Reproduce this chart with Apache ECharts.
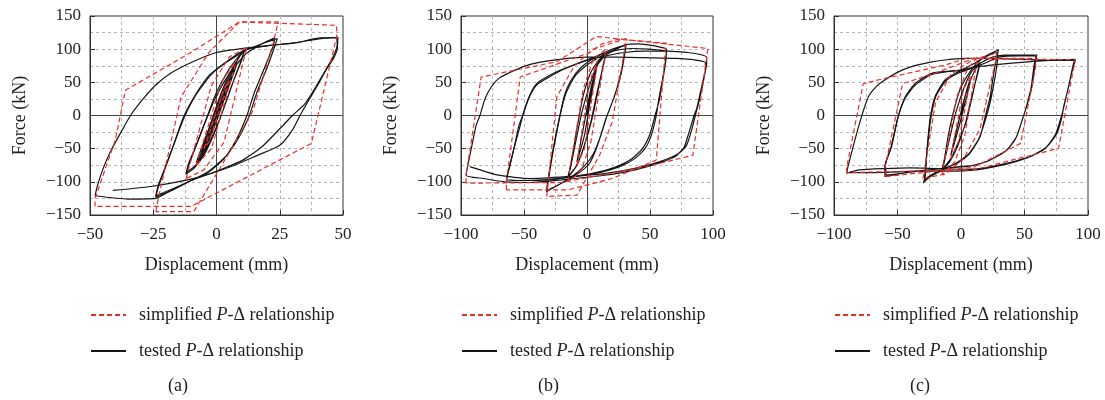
<!DOCTYPE html>
<html><head><meta charset="utf-8">
<script src="https://cdn.jsdelivr.net/npm/echarts@6/dist/echarts.min.js"></script>
<style>html,body{margin:0;padding:0;background:#fff}#c{width:1105px;height:400px}</style>
</head><body><div id="c"></div>
<script>
// ---------- data ----------
const simName = 'simplified P-Δ relationship';
const testName = 'tested P-Δ relationship';
const panelTags = ['(a)', '(b)', '(c)'];
const xTitle = 'Displacement (mm)';
const yTitle = 'Force (kN)';

// panel (a): tested loops, [displacement mm, force kN]
const aTest = [
 [[0,0],[2,20],[4,40],[3,30],[1,8],[-1,-12],[-4,-38],[-3,-28],[-1,-8],[1,14],[4,42]],
 [[4,42],[5,52],[6,60],[5,48],[2,18],[0,-4],[-3,-32],[-6,-58],[-5,-46],[-2,-16],[1,14],[4,44],[6,62]],
 [[6,62],[8,78],[7,66],[4,35],[1,2],[-2,-28],[-5,-56],[-8,-72],[-7,-60],[-4,-30],[-1,0],[3,40],[6,66],[8,82],[7,68],[3,28],[0,-6],[-4,-45],[-8,-75]],
 [[-8,-75],[-6,-55],[-3,-20],[1,25],[5,62],[9,88],[11,99],[10,86],[7,55],[3,12],[-1,-28],[-5,-60],[-9,-80],[-12,-88],[-11,-72],[-8,-45],[-4,-5],[0,35],[5,70],[9,90],[11,97],[10,84],[6,45],[2,2],[-3,-42],[-8,-74],[-12,-86]],
 [[-12,-86],[-9,-55],[-5,-15],[0,30],[6,68],[12,94],[18,108],[23,117],[22.5,106],[19,72],[15,35],[12,0],[8,-35],[3,-65],[-4,-88],[-10,-98],[-17,-112],[-24,-123],[-23,-108],[-21,-87],[-17,-45],[-13,-2],[-8,33],[-3,60],[3,78],[8,90],[12,99],[18,108],[24,116],[23,104],[20,72],[16,35],[13,0],[9,-32],[4,-60],[-3,-84],[-10,-98],[-17,-110],[-24,-121]],
 [[-24,-121],[-23,-105],[-21,-85],[-17,-45],[-13,-5],[-8,32],[-2,62],[5,84],[12,100],[20,105],[30,109],[38,114],[44,117],[48,118]],
 [[48,118],[47.8,106],[46.5,92],[44,74],[40,48],[35,18],[30,0],[25,-20],[18,-47],[10,-68],[0,-84],[-10,-98],[-18,-113],[-24,-125],[-35,-126],[-48,-121]],
 [[-48,-121],[-47,-105],[-45,-82],[-42,-55],[-38,-27],[-34,0],[-29,25],[-24,46],[-18,64],[-10,80],[0,95],[10,101],[22,106],[32,110],[41,117],[47.5,117]],
 [[47.5,117],[47.8,103],[46.5,88],[43.5,70],[40,46],[36,20],[33,0],[30,-22],[25,-45],[15,-62],[5,-78],[-8,-94],[-26,-107],[-41,-113]]
];
// panel (a): simplified loops
const aSim = [
 [[-5,-50],[-4,-40],[3,40],[5,52],[4,40],[-3,-40],[-5,-50]],
 [[-8,-75],[-7,-62],[2,50],[8,85],[7,70],[-2,-50],[-8,-75]],
 [[-12,-95],[-11,-80],[-2,45],[5,88],[12,103],[11,88],[3,-40],[-5,-82],[-12,-95]],
 [[-24,-145],[-23,-125],[-14,28],[-3,95],[9,141],[24.4,141],[22.4,109],[14.5,8],[6,-50],[-9,-145],[-24,-145]],
 [[-48,-137],[-48,-125],[-40,-37],[-36,38],[-11,93],[9,141],[47.5,136],[47.5,119],[37.5,-42],[-10,-137],[-48,-137]]
];

// panel (b)
const bTest = [
 [[0,0],[4,45],[8,75],[6,55],[2,15],[-2,-30],[-8,-70],[-6,-50],[-2,-10],[3,40],[8,78]],
 [[8,78],[12,88],[15,93],[13,78],[9,40],[4,-5],[-2,-45],[-8,-75],[-15,-92],[-13,-78],[-9,-40],[-4,5],[2,45],[8,75],[15,92],[13,76],[8,35],[3,-10],[-3,-50],[-9,-78],[-15,-93]],
 [[-15,-93],[-12,-65],[-8,-20],[-3,30],[3,65],[10,85],[20,97],[31,107],[30,95],[27,65],[22,30],[16,0],[11,-30],[7,-52],[2,-72],[-6,-86],[-18,-100],[-28,-110],[-32,-115],[-31,-100],[-27,-55],[-22,-5],[-18,30],[-13,52],[-5,72],[5,86],[15,96],[25,103],[31,106],[30,93],[27,62],[21,25],[15,-5],[10,-35],[5,-58],[-2,-76],[-12,-92],[-24,-106],[-32,-113]],
 [[-32,-113],[-31,-98],[-27,-52],[-22,-5],[-17,32],[-10,58],[0,76],[12,90],[25,102],[31,107],[40,108],[50,106],[58,103],[63,100],[62.5,85],[60,55],[57,25],[55,0],[51,-30],[46,-50],[38,-65],[26,-77],[10,-86],[-10,-92],[-30,-97],[-50,-98],[-64,-96],[-62,-80],[-58,-50],[-53,-15],[-51,0],[-46,28],[-40,48],[-32,58],[-24,66],[-12,75],[0,83],[15,90],[30,95],[45,97],[55,97],[63,96],[62.5,82],[60,52],[57,20],[54,0],[50,-28],[44,-50],[35,-66],[22,-78],[5,-87],[-15,-93],[-35,-97],[-55,-98],[-64,-97]],
 [[-64,-97],[-62,-82],[-58,-50],[-54,-15],[-51,0],[-46,27],[-40,46],[-30,58],[-18,70],[0,84],[20,97],[35,101],[50,100],[65,97],[80,95],[90,92],[95,88],[95,78],[93,60],[90,35],[87,10],[85,0],[81,-25],[77,-48],[70,-62],[60,-70],[50,-76],[38,-82],[22,-88],[5,-92],[-20,-97],[-45,-101],[-65,-100],[-82,-95],[-96,-90],[-94,-70],[-91,-42],[-88,-15],[-85,0],[-81,25],[-76,43],[-70,56],[-62,64],[-50,74],[-38,80],[-20,85],[0,88],[25,88],[50,87],[70,86],[85,84],[94,80],[94,70],[92,48],[89,22],[86,0],[83,-22],[79,-45],[73,-57],[63,-66],[50,-74],[32,-82],[12,-88],[-15,-92],[-45,-95],[-70,-90],[-93,-77]]
];
const bSim = [
 [[-8,-75],[-7,-60],[2,50],[8,82],[7,65],[-2,-50],[-8,-75]],
 [[-15,-100],[-14,-85],[-3,40],[5,85],[15,100],[14,85],[3,-40],[-5,-85],[-15,-100]],
 [[-32,-122],[-31,-105],[-24,28],[-10,75],[5,100],[31,116],[30,100],[20,-10],[10,-60],[-8,-120],[-32,-122]],
 [[-64,-112],[-64,-100],[-53,58],[1,94],[12,108],[25,115],[63,109],[62,95],[55,-67],[20,-95],[-15,-112],[-64,-112]],
 [[-96,-102],[-96,-90],[-84,58],[-24,81],[7.5,119],[96,101],[95,88],[84,-60],[47,-77],[-20,-101],[-96,-102]]
];

// panel (c)
const cTest = [
 [[0,0],[4,35],[8,58],[6,40],[2,10],[-2,-20],[-8,-60],[-6,-42],[-2,-10],[3,28],[8,56]],
 [[8,56],[12,72],[15,80],[13,65],[9,30],[4,-10],[-2,-40],[-8,-65],[-15,-82],[-13,-68],[-9,-35],[-4,5],[2,40],[8,65],[15,79],[13,62],[8,25],[3,-15],[-3,-48],[-9,-70],[-15,-83]],
 [[-15,-83],[-13,-65],[-10,-30],[-6,5],[-1,38],[5,60],[12,78],[20,90],[29.5,99],[28.2,89],[25.5,60],[22.9,28],[19,-2],[15,-32],[7,-57],[-3,-72],[-11,-78],[-20,-86],[-27,-94],[-29.7,-102],[-28.4,-96],[-27,-57],[-24.5,-7],[-20.5,28],[-12.6,53.5],[-3,65],[3,71],[10,78],[18,87],[28,95],[29,90],[27,60],[23,20],[19,-8],[14,-35],[6,-58],[-4,-72],[-14,-82],[-24,-92],[-29,-100]],
 [[-29,-100],[-28,-80],[-26.5,-50],[-24,-7],[-20,28],[-12,52],[-2,64],[8,71],[16,80],[25,88],[35,91],[48,91],[59.7,91],[58.4,78.6],[55.8,43],[51.6,13],[49,-2],[43.7,-32],[36,-52],[23,-67],[10,-75],[-0.8,-77],[-20,-81],[-40,-85],[-60,-92],[-60,-77],[-54.7,-47],[-49.5,-2],[-44,28],[-36,48.5],[-23,63.6],[0,68],[10,72],[20,80],[30,88],[45,90],[59,89],[57.5,75],[55,40],[51,10],[48.5,-5],[43,-35],[35,-54],[22,-68],[8,-76],[-10,-79],[-30,-83],[-50,-88],[-59,-90]],
 [[-59,-90],[-59.5,-75],[-55,-47],[-50,-5],[-44,26],[-36,46],[-23,62],[0,69],[15,74],[40,79],[60,82],[75,84],[90,84.7],[88.6,78.6],[86.5,60],[84.7,43],[80.8,13],[79.5,-2],[75.5,-27],[67.6,-47],[54.5,-62],[36,-72],[15,-80],[0,-81],[-20,-80],[-40,-79],[-60,-80],[-80,-82],[-90,-87],[-89,-77],[-84,-40],[-78.4,-2],[-73,28],[-66,45],[-60,53.5],[-50,65],[-39,73.6],[-25,80],[-12.6,83.7],[3.2,86],[20,86],[40,85],[60,84],[75,83],[90,83],[89,77],[86,55],[83,30],[80,5],[78,-8],[74,-30],[66,-50],[52,-64],[34,-74],[12,-82],[-10,-84],[-30,-84],[-50,-85],[-70,-86],[-90,-86]]
];
const cSim = [
 [[-8,-65],[-7,-52],[2,40],[8,60],[7,48],[-2,-40],[-8,-65]],
 [[-15,-90],[-14,-78],[-3,30],[5,70],[13,88],[12,75],[3,-30],[-5,-70],[-15,-90]],
 [[-30,-95],[-29,-85],[-20,20],[-8,62],[10,85],[28,94],[27,80],[15,-20],[2,-65],[-12,-88],[-30,-95]],
 [[-60,-92],[-60,-80],[-46,48],[-20,64],[10,86],[60,86],[59,75],[47,-42],[10,-78],[-60,-92]],
 [[-90,-86],[-90,-78],[-77,48],[-60,56],[-12.6,76],[4,86],[90,84],[89,75],[76.8,-49.5],[9.7,-82],[-90,-86]]
];

// axis ranges and tick steps
const xRanges = [[-50, 50, 25], [-100, 100, 50], [-100, 100, 50]];
const yRange = [-150, 150, 50];

// ---------- layout ----------
const FONT = 'Liberation Serif';
const layout = [
  {left: 90, width: 253, tagX: 180},
  {left: 461, width: 252, tagX: 550},
  {left: 834, width: 254, tagX: 922}
];
const testSets = [aTest, bTest, cTest];
const simSets = [aSim, bSim, cSim];
const BLACK = '#161616', RED = '#ec2e2a', GRIDC = '#b4b4b4';
const fmt = v => v < 0 ? '\u2212' + Math.abs(v) : String(v);
const gridLine = {show: true, showMinLine: false, showMaxLine: false, lineStyle: {color: GRIDC, type: [3, 3], width: 1}};

const grids = [], xAxes = [], yAxes = [], series = [], legends = [], graphics = [];
layout.forEach((L, i) => {
  grids.push({left: L.left, top: 16, width: L.width, height: 199, show: true, borderColor: '#333', borderWidth: 1, backgroundColor: 'transparent'});
  const [xmin, xmax, xint] = xRanges[i];
  xAxes.push({
    gridIndex: i, type: 'value', min: xmin, max: xmax, interval: xint,
    axisLine: {show: true, onZero: false, lineStyle: {color: '#333', width: 1}},
    axisTick: {show: true, inside: true, length: 5, lineStyle: {color: '#333'}},
    axisLabel: {margin: 11, fontFamily: FONT, fontSize: 17, color: '#222', formatter: fmt},
    splitLine: gridLine, minorTick: {show: false, splitNumber: 2}, minorSplitLine: gridLine,
    name: xTitle, nameLocation: 'middle', nameGap: 41,
    nameTextStyle: {fontFamily: FONT, fontSize: 18, color: '#222'}
  });
  yAxes.push({
    gridIndex: i, type: 'value', min: yRange[0], max: yRange[1], interval: yRange[2],
    axisLine: {show: true, onZero: false, lineStyle: {color: '#333', width: 1}},
    axisTick: {show: true, inside: true, length: 5, lineStyle: {color: '#333'}},
    axisLabel: {margin: 9, fontFamily: FONT, fontSize: 17, color: '#222', formatter: fmt},
    splitLine: gridLine, minorTick: {show: false, splitNumber: 2}, minorSplitLine: gridLine,
    name: yTitle, nameLocation: 'middle', nameGap: 61,
    nameTextStyle: {fontFamily: FONT, fontSize: 18, color: '#222'}
  });
  testSets[i].forEach((loop, k) => {
    const s = {
      name: testName, type: 'line', xAxisIndex: i, yAxisIndex: i, data: loop,
      symbol: 'none', showSymbol: false, smooth: 0.2, silent: true, z: 3,
      lineStyle: {color: BLACK, width: 1.2}, itemStyle: {color: BLACK}
    };
    if (k === 0) {
      s.markLine = {silent: true, symbol: ['none', 'none'], label: {show: false},
        lineStyle: {color: '#444', type: 'solid', width: 1},
        data: [{xAxis: 0}, {yAxis: 0}], z: 1};
    }
    series.push(s);
  });
  simSets[i].forEach(loop => {
    series.push({
      name: simName, type: 'line', xAxisIndex: i, yAxisIndex: i, data: loop,
      symbol: 'none', showSymbol: false, silent: true, z: 4,
      lineStyle: {color: RED, width: 1.2, type: [5, 3]}, itemStyle: {color: RED}
    });
  });
  legends.push({
    left: L.left, top: 305, orient: 'vertical', padding: 0, itemGap: 16,
    itemWidth: 35, itemHeight: 14, selectedMode: false,
    itemStyle: {opacity: 0, borderWidth: 0},
    data: [simName, testName],
    formatter: n => n.replace('P-Δ', '{i|P}-Δ'),
    textStyle: {fontFamily: FONT, fontSize: 18, color: '#222', lineHeight: 20, padding: [0, 0, 0, 8],
      rich: {i: {fontFamily: FONT, fontSize: 18, fontStyle: 'italic', color: '#222', lineHeight: 20}}}
  });
  graphics.push({type: 'text', left: L.tagX - 12, top: 377,
    style: {text: panelTags[i], font: '18px "' + FONT + '"', fill: '#222'}});
});

const chart = echarts.init(document.getElementById('c'), null, {renderer: 'canvas'});
chart.setOption({
  animation: false, backgroundColor: '#fff',
  grid: grids, xAxis: xAxes, yAxis: yAxes, series: series, legend: legends, graphic: graphics
});
</script></body></html>
